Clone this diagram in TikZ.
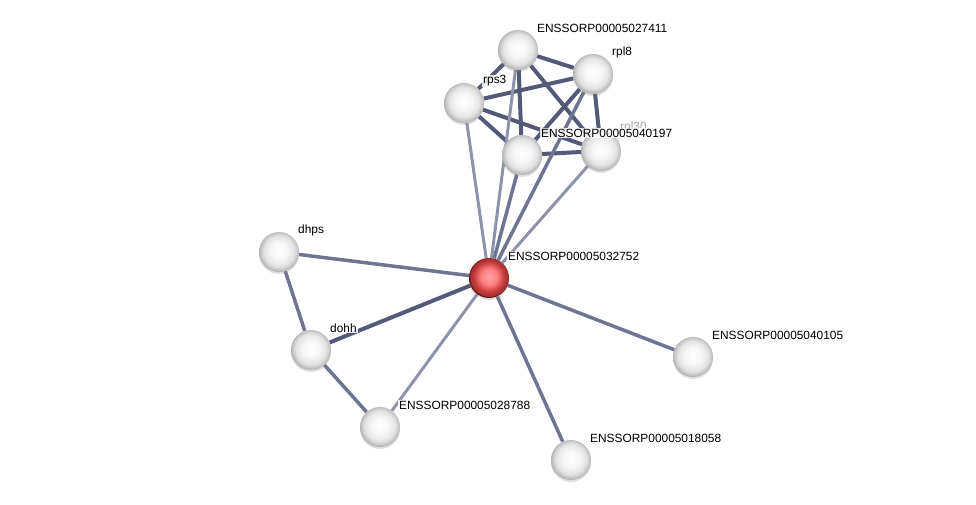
\documentclass[tikz,border=0pt]{standalone}
\usepackage{fontspec}
\setmainfont{Liberation Sans}
\usetikzlibrary{positioning, calc, backgrounds, shadows}

\definecolor{edgedark}{HTML}{525A78}
\definecolor{edgemid}{HTML}{6E7590}
\definecolor{edgelight}{HTML}{8D93A9}

\pgfdeclareradialshading{greyball}{\pgfpoint{0bp}{2bp}}{%
  color(0bp)=(white); color(10bp)=(gray!6); color(19bp)=(gray!22);
  color(24bp)=(gray!50); color(25bp)=(gray!60); color(50bp)=(gray!60)}
\pgfdeclareradialshading{redball}{\pgfpoint{0bp}{2bp}}{%
  color(0bp)=(red!35!white); color(10bp)=(red!50!white); color(19bp)=(red!55!gray);
  color(24bp)=(red!50!black!80); color(25bp)=(red!40!black); color(50bp)=(red!40!black)}

\tikzset{
  protein/.style={circle, minimum size=40pt, inner sep=0pt, shading=greyball,
    drop shadow={shadow xshift=0pt, shadow yshift=-2pt, opacity=0.25}},
  query/.style={protein, shading=redball},
  lbl/.style={anchor=west, inner sep=1pt, fill=white, fill opacity=0.85, text opacity=1,
    font=\fontsize{11.9}{13}\selectfont},
  strong/.style={edgedark, line width=4pt},
  medium/.style={edgemid, line width=3.5pt},
  weak/.style={edgelight, line width=3pt}
}

\begin{document}
\begin{tikzpicture}[x=1pt, y=-1pt]
  \useasboundingbox (0,0) rectangle (976,505);

  \node[protein] (p27411) at (518, 50) {};
  \node[protein] (rpl8) at (593, 74) {};
  \node[protein] (rps3) at (464, 103) {};
  \node[protein] (rpl30) at (601, 151) {};
  \node[protein] (p40197) at (522, 155) {};
  \node[query] (p32752) at (489, 278) {};
  \node[protein] (dhps) at (279, 252) {};
  \node[protein] (dohh) at (311, 350) {};
  \node[protein] (p28788) at (380, 427) {};
  \node[protein] (p18058) at (571, 460) {};
  \node[protein] (p40105) at (693, 357) {};

  \begin{scope}[on background layer]
    \draw[strong] (p27411) -- (rpl8);
    \draw[strong] (p27411) -- (rps3);
    \draw[strong] (p27411) -- (p40197);
    \draw[strong] (p27411) -- (rpl30);
    \draw[strong] (rps3) -- (rpl8);
    \draw[strong] (rps3) -- (p40197);
    \draw[strong] (rps3) -- (rpl30);
    \draw[strong] (rpl8) -- (p40197);
    \draw[strong] (rpl8) -- (rpl30);
    \draw[strong] (p40197) -- (rpl30);
    \draw[weak] (p32752) -- (rps3);
    \draw[weak] (p32752) -- (p27411);
    \draw[medium] (p32752) -- (p40197);
    \draw[medium] (p32752) -- (rpl8);
    \draw[weak] (p32752) -- (rpl30);
    \draw[medium] (p32752) -- (dhps);
    \draw[strong] (p32752) -- (dohh);
    \draw[weak] (p32752) -- (p28788);
    \draw[medium] (p32752) -- (p18058);
    \draw[medium] (p32752) -- (p40105);
    \draw[medium] (dhps) -- (dohh);
    \draw[medium] (dohh) -- (p28788);
  \end{scope}

  \node[lbl, text=gray!70] (rpl30-l) at ($(rpl30)+(18,-24)$) {rpl30};
  \node[lbl] (p27411-l) at ($(p27411)+(18,-22)$) {ENSSORP00005027411};
  \node[lbl] (rpl8-l) at ($(rpl8)+(18,-22)$) {rpl8};
  \node[lbl] (rps3-l) at ($(rps3)+(18,-22)$) {rps3};
  \node[lbl] (p40197-l) at ($(p40197)+(18,-22)$) {ENSSORP00005040197};
  \node[lbl] (p32752-l) at ($(p32752)+(18,-22)$) {ENSSORP00005032752};
  \node[lbl] (dhps-l) at ($(dhps)+(18,-22)$) {dhps};
  \node[lbl] (dohh-l) at ($(dohh)+(18,-22)$) {dohh};
  \node[lbl] (p28788-l) at ($(p28788)+(18,-22)$) {ENSSORP00005028788};
  \node[lbl] (p18058-l) at ($(p18058)+(18,-22)$) {ENSSORP00005018058};
  \node[lbl] (p40105-l) at ($(p40105)+(18,-22)$) {ENSSORP00005040105};
\end{tikzpicture}
\end{document}
